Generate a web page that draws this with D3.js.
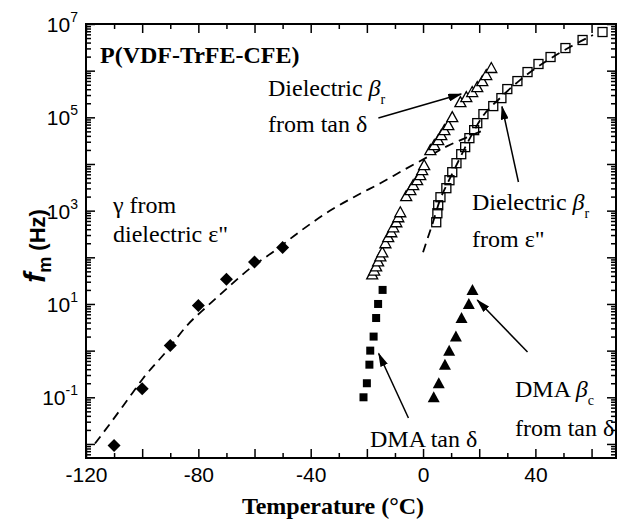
<!DOCTYPE html>
<html>
<head>
<meta charset="utf-8">
<script src="https://cdn.jsdelivr.net/npm/d3@7"></script>
<style>
body{margin:0;background:#fff;}
text{fill:#000;}
</style>
</head>
<body>
<svg id="chart" width="619" height="520"></svg>
<script>
// gamma relaxation from dielectric eps'' (solid diamonds)
var gammaT = [-110,-100,-90,-80,-70,-60,-50];
var gammaF = [0.0093,0.152,1.29,9.3,34,79,162];
// dashed fit through gamma points
var gammaFitT = [-116.8,-111.4,-105.4,-99.7,-91.1,-84.0,-76.9,-69.8,-61.6,-52.6,-43.7,-32.0,-23.4,-15.2,-7.0,1.5,8.6,15.8,20.8];
var gammaFitF = [0.0102,0.0274,0.0853,0.253,1.01,3.48,8.87,21.6,58.1,141,363,1096,2138,3873,7362,14000,24100,37600,50600];

// dielectric beta_r from tan delta (open triangles)
var tanT = [-18.1,-17.4,-16.7,-16.0,-15.2,-14.5,-13.4,-12.4,-11.3,-10.6,-9.5,-8.8,-8.1,-6.0,-4.5,-3.5,-2.1,-1.0,-0.3,0.4,2.6,4.0,5.4,6.5,7.6,9.0,10.4,13.3,15.4,17.5,19.3,21.1,22.5,24.3];
var tanF = [43,52,64,82,105,128,200,270,344,440,564,721,925,2040,2740,3510,4490,5750,7360,9420,19800,25300,32400,41500,53100,68000,101000,212000,271000,348000,445000,598000,805000,1140000];

// dielectric beta_r from eps'' (open squares)
var epsT = [4.7,5.1,5.4,6.2,8.3,9.4,10.4,11.9,13.6,15.0,16.5,18.2,19.3,21.5,25.0,27.9,30.0,33.6,37.2,41.1,45.4,50.7,56.8,63.9];
var epsF = [564,880,1305,1940,3030,4490,6670,10400,16200,23000,35800,53100,75100,117000,174000,258000,403000,598000,933000,1390000,1960000,3050000,4540000,6730000];
// fit through squares
var epsFitT = [0,1.4,3.2,6.0,8.9,12.4,16.7,21.3,27.4,34.5,43.4,52.3,60.5];
var epsFitF = [128,232,486,1670,4070,10900,35800,106000,258000,628000,1530000,3210000,5800000];

// DMA tan delta (solid squares) and DMA beta_c (solid triangles)
var dmaF = [0.1,0.2,0.5,1,2,5,10,20];
var dmaTanT = [-21.2,-20.0,-19.1,-18.8,-17.6,-16.7,-16.0,-14.4];
var dmaBetaT = [3.8,5.6,7.8,9.3,11.7,13.7,16.3,17.6];

// axis ticks
var xMajor = [-120,-100,-80,-60,-40,-20,0,20,40,60];
var xLabels = [-120,-80,-40,0,40];
var xMinor = [-110,-90,-70,-50,-30,-10,10,30,50];
var yExp = [-2,-1,0,1,2,3,4,5,6,7];
var yLabelExp = [-1,1,3,5,7];

var svg = d3.select("#chart");
var x = d3.scaleLinear().domain([-120, 68.7]).range([86, 616]);
var y = d3.scaleLog().domain([0.005, 1e7]).range([458, 24]);

function zip(a, b){
    var out = [];
    for(var i=0;i<a.length;i++){ out.push({t:a[i], f:b[i]}); }
    return out;
}

var yMinor = [];
for(var k=-3;k<7;k++){
    for(var m=2;m<10;m++){
        var v = m*Math.pow(10,k);
        if(v>0.005 && v<1e7) yMinor.push(v);
    }
}

// arrow head
svg.append("defs").append("marker")
    .attr("id","head")
    .attr("markerUnits","userSpaceOnUse")
    .attr("viewBox","0 0 14 8")
    .attr("refX",13).attr("refY",4)
    .attr("markerWidth",14).attr("markerHeight",8)
    .attr("orient","auto")
  .append("path").attr("d","M0,0L14,4L0,8Z").attr("fill","#000");

// axes (ticks inward)
var gx = svg.append("g").attr("transform","translate(0,458)")
    .call(d3.axisBottom(x).tickValues(xMajor).tickSize(-9).tickPadding(9)
        .tickFormat(function(d){ return xLabels.indexOf(d)>-1 ? d : ""; }));
svg.append("g").attr("transform","translate(0,458)")
    .call(d3.axisBottom(x).tickValues(xMinor).tickSize(-5).tickFormat(""));
svg.append("g").attr("transform","translate(0,24)")
    .call(d3.axisTop(x).tickValues(xMajor).tickSize(-9).tickFormat(""));
svg.append("g").attr("transform","translate(0,24)")
    .call(d3.axisTop(x).tickValues(xMinor).tickSize(-5).tickFormat(""));

var yMajorV = yExp.map(function(e){ return Math.pow(10,e); });
svg.append("g").attr("transform","translate(86,0)")
    .call(d3.axisLeft(y).tickValues(yMajorV).tickSize(-9).tickFormat(""));
svg.append("g").attr("transform","translate(86,0)")
    .call(d3.axisLeft(y).tickValues(yMinor).tickSize(-5).tickFormat(""));
svg.append("g").attr("transform","translate(616,0)")
    .call(d3.axisRight(y).tickValues(yMajorV).tickSize(-9).tickFormat(""));
svg.append("g").attr("transform","translate(616,0)")
    .call(d3.axisRight(y).tickValues(yMinor).tickSize(-5).tickFormat(""));

svg.selectAll(".domain").remove();
svg.selectAll(".tick line").attr("stroke","#000").attr("stroke-width",1.5);
gx.selectAll("text").attr("font-family","Liberation Sans, Arial, sans-serif")
    .attr("font-size",21).attr("fill","#000");

// y tick labels 10^n
yLabelExp.forEach(function(e){
    var t = svg.append("text")
        .attr("x",78).attr("y",y(Math.pow(10,e))+8)
        .attr("text-anchor","end")
        .attr("font-family","Liberation Sans, Arial, sans-serif")
        .attr("font-size",21);
    t.append("tspan").text("10");
    t.append("tspan").attr("font-size",14).attr("dy",-10).text(e);
});

// frame
svg.append("rect").attr("x",86).attr("y",24).attr("width",530).attr("height",434)
    .attr("fill","none").attr("stroke","#000").attr("stroke-width",2);

var line = d3.line()
    .x(function(d){ return x(d.t); })
    .y(function(d){ return y(d.f); })
    .curve(d3.curveMonotoneX);

svg.append("path").datum(zip(gammaFitT,gammaFitF))
    .attr("d",line).attr("fill","none").attr("stroke","#000")
    .attr("stroke-width",1.8).attr("stroke-dasharray","9,6");
svg.append("path").datum(zip(epsFitT,epsFitF))
    .attr("d",line).attr("fill","none").attr("stroke","#000")
    .attr("stroke-width",1.8).attr("stroke-dasharray","9,6");

// markers
svg.selectAll(".dia").data(zip(gammaT,gammaF)).enter().append("path")
    .attr("transform",function(d){ return "translate("+x(d.t)+","+y(d.f)+")"; })
    .attr("d","M0,-6.5L6.5,0L0,6.5L-6.5,0Z").attr("fill","#000");

svg.selectAll(".otri").data(zip(tanT,tanF)).enter().append("path")
    .attr("transform",function(d){ return "translate("+x(d.t)+","+y(d.f)+")"; })
    .attr("d","M0,-5.5L5.5,4.5L-5.5,4.5Z")
    .attr("fill","#fff").attr("stroke","#000").attr("stroke-width",1.3);

svg.selectAll(".osq").data(zip(epsT,epsF)).enter().append("rect")
    .attr("x",function(d){ return x(d.t)-4.5; })
    .attr("y",function(d){ return y(d.f)-4.5; })
    .attr("width",9).attr("height",9)
    .attr("fill","none").attr("stroke","#000").attr("stroke-width",1.3);

svg.selectAll(".ssq").data(zip(dmaTanT,dmaF)).enter().append("rect")
    .attr("x",function(d){ return x(d.t)-4; })
    .attr("y",function(d){ return y(d.f)-4; })
    .attr("width",8).attr("height",8).attr("fill","#000");

svg.selectAll(".stri").data(zip(dmaBetaT,dmaF)).enter().append("path")
    .attr("transform",function(d){ return "translate("+x(d.t)+","+y(d.f)+")"; })
    .attr("d","M0,-6L6,5L-6,5Z").attr("fill","#000");

// arrows (data coords)
var arrows = [
    [[-15.9,96600],[13.6,316000]],
    [[33.96,4110],[28.1,170600]],
    [[-5.2,0.036],[-15.8,0.867]],
    [[37.2,0.933],[19.3,12.2]]
];
arrows.forEach(function(a){
    svg.append("line")
        .attr("x1",x(a[0][0])).attr("y1",y(a[0][1]))
        .attr("x2",x(a[1][0])).attr("y2",y(a[1][1]))
        .attr("stroke","#000").attr("stroke-width",1.5)
        .attr("marker-end","url(#head)");
});

// labels
var serif = "Liberation Serif, Times New Roman, serif";
svg.append("text").attr("x",100).attr("y",63)
    .attr("font-family",serif).attr("font-weight","bold").attr("font-size",24)
    .text("P(VDF-TrFE-CFE)");

function betaLabel(px, py, sub){
    var t = svg.append("text").attr("x",px).attr("y",py)
        .attr("font-family",serif).attr("font-size",24);
    t.append("tspan").text("Dielectric ");
    t.append("tspan").attr("font-style","italic").text("\u03b2");
    t.append("tspan").attr("font-size",14).attr("dy",8).text(sub);
}
betaLabel(268, 96, "r");
svg.append("text").attr("x",268).attr("y",132)
    .attr("font-family",serif).attr("font-size",24).text("from tan \u03b4");

betaLabel(472, 210, "r");
svg.append("text").attr("x",472).attr("y",247)
    .attr("font-family",serif).attr("font-size",24).text("from \u03b5\"");

svg.append("text").attr("x",113).attr("y",213)
    .attr("font-family",serif).attr("font-size",24).text("\u03b3 from");
svg.append("text").attr("x",113).attr("y",242)
    .attr("font-family",serif).attr("font-size",24).text("dielectric \u03b5\"");

svg.append("text").attr("x",370).attr("y",447)
    .attr("font-family",serif).attr("font-size",24).text("DMA tan \u03b4");

var dm = svg.append("text").attr("x",515).attr("y",397)
    .attr("font-family",serif).attr("font-size",24);
dm.append("tspan").text("DMA ");
dm.append("tspan").attr("font-style","italic").text("\u03b2");
dm.append("tspan").attr("font-size",14).attr("dy",8).text("c");
svg.append("text").attr("x",515).attr("y",436)
    .attr("font-family",serif).attr("font-size",24).text("from tan \u03b4");

// axis titles
svg.append("text").attr("x",333).attr("y",514).attr("text-anchor","middle")
    .attr("font-family",serif).attr("font-weight","bold").attr("font-size",24)
    .text("Temperature (\u00b0C)");

var yl = svg.append("text").attr("transform","translate(45,246) rotate(-90)")
    .attr("text-anchor","middle")
    .attr("font-family","Liberation Sans, Arial, sans-serif").attr("font-weight","bold");
yl.append("tspan").attr("font-size",30).attr("font-style","italic").text("f");
yl.append("tspan").attr("font-size",18).attr("dy",6).text("m");
yl.append("tspan").attr("font-size",22).attr("dy",-6).text(" (Hz)");
</script>
</body>
</html>
